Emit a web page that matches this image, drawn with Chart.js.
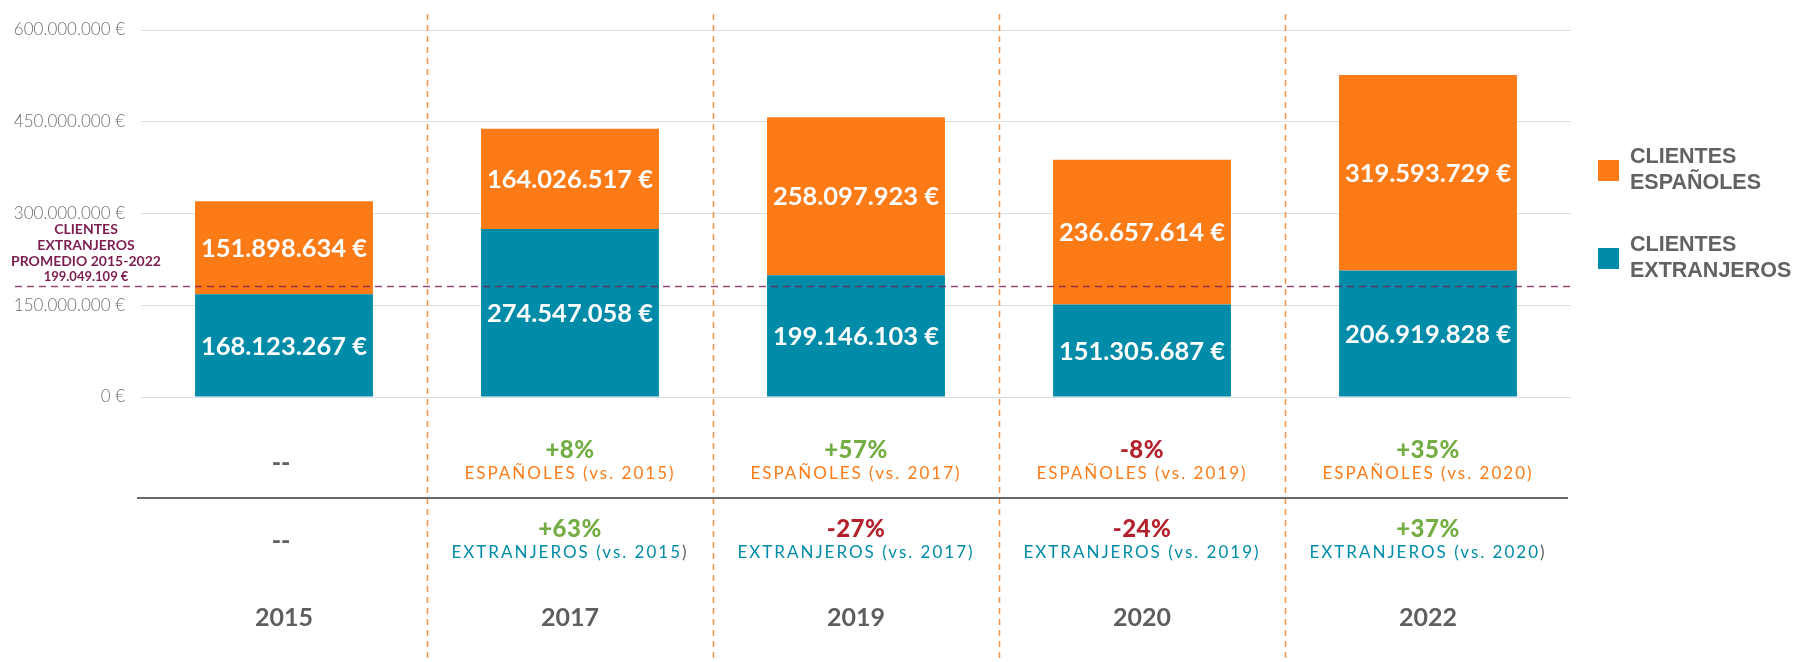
<!DOCTYPE html>
<html>
<head>
<meta charset="utf-8">
<script src="https://cdn.jsdelivr.net/npm/chart.js@4.4.1/dist/chart.umd.min.js"></script>
<style>
  html, body { margin: 0; padding: 0; background: #fff; }
  #wrap { width: 1795px; height: 662px; }
</style>
</head>
<body>
<div id="wrap"><canvas id="chart" width="1795" height="662"></canvas></div>
<script>
const years = ['2015', '2017', '2019', '2020', '2022'];
const extranjeros = [168123267, 274547058, 199146103, 151305687, 206919828];
const espanoles = [151898634, 164026517, 258097923, 236657614, 319593729];
const yTicks = [0, 150000000, 300000000, 450000000, 600000000];

// average line (as drawn in the reference) and its label
const promedioLinea = 181000000;
const promedioTexto = ['CLIENTES', 'EXTRANJEROS', 'PROMEDIO 2015-2022', '199.049.109 €'];

// variation table under the bars
const varEspanoles = [null, '+8%', '+57%', '-8%', '+35%'];
const varExtranjeros = [null, '+63%', '-27%', '-24%', '+37%'];
const vsYear = [null, '2015', '2017', '2019', '2020'];
const parenGris = [false, true, false, false, true];

const NARANJA = '#fd7b17';
const AZUL = '#008ca9';
const VERDE = '#74ad43';
const ROJO = '#b3222c';
const GRIS = '#5e5e5e';
const MORADO = '#7c1d50';
const FONT = 'Lato, "Open Sans", sans-serif';

function euros(v) {
    return String(Math.round(v)).replace(/\B(?=(\d{3})+(?!\d))/g, '.') + ' €';
}

const barLabels = {
    id: 'barLabels',
    afterDatasetsDraw(chart) {
        const ctx = chart.ctx;
        ctx.save();
        ctx.fillStyle = '#fff';
        ctx.font = 'bold 25.5px ' + FONT;
        ctx.textAlign = 'center';
        ctx.textBaseline = 'middle';
        chart.data.datasets.forEach((ds, di) => {
            chart.getDatasetMeta(di).data.forEach((bar, i) => {
                const mid = (bar.y + bar.base) / 2;
                ctx.fillText(euros(ds.data[i]), bar.x, mid + 1);
            });
        });
        ctx.restore();
    }
};

const extras = {
    id: 'extras',
    beforeDatasetsDraw(chart) {
        const { ctx, scales: { x } } = chart;
        ctx.save();
        ctx.strokeStyle = '#f79346';
        ctx.lineWidth = 1.5;
        ctx.setLineDash([6, 5]);
        for (let i = 0; i < years.length - 1; i++) {
            const px = Math.round((x.getPixelForValue(i) + x.getPixelForValue(i + 1)) / 2) + 0.5;
            ctx.beginPath();
            ctx.moveTo(px, 14);
            ctx.lineTo(px, 662);
            ctx.stroke();
        }
        ctx.restore();
    },
    afterDatasetsDraw(chart) {
        const { ctx, chartArea, scales: { x, y } } = chart;
        ctx.save();

        // average dashed line
        const py = Math.round(y.getPixelForValue(promedioLinea)) + 0.5;
        ctx.strokeStyle = 'rgba(124, 29, 80, 0.8)';
        ctx.lineWidth = 1.5;
        ctx.setLineDash([7, 5]);
        ctx.beginPath();
        ctx.moveTo(15, py);
        ctx.lineTo(chartArea.right, py);
        ctx.stroke();
        ctx.setLineDash([]);

        ctx.fillStyle = MORADO;
        ctx.textAlign = 'center';
        ctx.textBaseline = 'middle';
        promedioTexto.forEach((t, i) => {
            ctx.font = 'bold ' + (i === 3 ? 13 : 14) + 'px ' + FONT;
            ctx.fillText(t, 86, 229 + i * 16);
        });

        // separator of the table
        ctx.strokeStyle = '#6a6a6a';
        ctx.lineWidth = 2;
        ctx.beginPath();
        ctx.moveTo(137, 498);
        ctx.lineTo(chartArea.right - 3, 498);
        ctx.stroke();

        years.forEach((yr, i) => {
            const cx = x.getPixelForValue(i);
            ctx.letterSpacing = '0px';
            if (varEspanoles[i] === null) {
                ctx.fillStyle = GRIS;
                ctx.font = '900 25px ' + FONT;
                ctx.fillText('--', cx - 3, 463);
                ctx.fillText('--', cx - 3, 541);
            } else {
                ctx.font = '900 24px ' + FONT;
                ctx.letterSpacing = '0.5px';
                ctx.fillStyle = varEspanoles[i][0] === '-' ? ROJO : VERDE;
                ctx.fillText(varEspanoles[i], cx, 450);
                ctx.fillStyle = varExtranjeros[i][0] === '-' ? ROJO : VERDE;
                ctx.fillText(varExtranjeros[i], cx, 529);

                ctx.font = '17px ' + FONT;
                ctx.letterSpacing = '2px';
                ctx.fillStyle = NARANJA;
                ctx.fillText('ESPAÑOLES (vs. ' + vsYear[i] + ')', cx, 474);

                const txt = 'EXTRANJEROS (vs. ' + vsYear[i] + ')';
                if (parenGris[i]) {
                    const body = txt.slice(0, -1);
                    const w = ctx.measureText(txt).width;
                    const wb = ctx.measureText(body).width;
                    ctx.textAlign = 'left';
                    ctx.fillStyle = AZUL;
                    ctx.fillText(body, cx - w / 2, 553);
                    ctx.fillStyle = GRIS;
                    ctx.fillText(')', cx - w / 2 + wb, 553);
                    ctx.textAlign = 'center';
                } else {
                    ctx.fillStyle = AZUL;
                    ctx.fillText(txt, cx, 553);
                }
                ctx.letterSpacing = '0px';
            }
            ctx.fillStyle = GRIS;
            ctx.font = 'bold 25px ' + FONT;
            ctx.fillText(yr, cx, 618);
        });

        // legend
        const items = [
            { color: NARANJA, lines: ['CLIENTES', 'ESPAÑOLES'], top: 160 },
            { color: AZUL, lines: ['CLIENTES', 'EXTRANJEROS'], top: 248 }
        ];
        ctx.textAlign = 'left';
        items.forEach(it => {
            ctx.fillStyle = it.color;
            ctx.fillRect(1598, it.top, 21, 21);
            ctx.fillStyle = '#626262';
            ctx.font = 'bold 21.5px "Liberation Sans", Arial, sans-serif';
            ctx.fillText(it.lines[0], 1630, it.top - 3);
            ctx.fillText(it.lines[1], 1630, it.top + 23);
        });

        ctx.restore();
    }
};

new Chart(document.getElementById('chart'), {
    type: 'bar',
    data: {
        labels: years,
        datasets: [
            { label: 'CLIENTES EXTRANJEROS', data: extranjeros, backgroundColor: AZUL, borderWidth: 0 },
            { label: 'CLIENTES ESPAÑOLES', data: espanoles, backgroundColor: NARANJA, borderWidth: 0 }
        ]
    },
    options: {
        responsive: false,
        animation: false,
        layout: { padding: { left: 0, right: 224, top: 30, bottom: 265 } },
        datasets: { bar: { categoryPercentage: 1, barPercentage: 0.622 } },
        plugins: { legend: { display: false }, tooltip: { enabled: false } },
        scales: {
            x: {
                display: false,
                stacked: true
            },
            y: {
                stacked: true,
                min: 0,
                max: 600000000,
                afterBuildTicks: s => { s.ticks = yTicks.map(v => ({ value: v })); },
                afterFit: s => { s.width = 141; },
                border: { display: false },
                grid: { color: '#dedede', lineWidth: 1, drawTicks: false },
                ticks: {
                    padding: 16,
                    color: '#6e6e6e',
                    font: { family: FONT, size: 17, weight: '300' },
                    callback: v => euros(v)
                }
            }
        }
    },
    plugins: [barLabels, extras]
});
</script>
</body>
</html>
